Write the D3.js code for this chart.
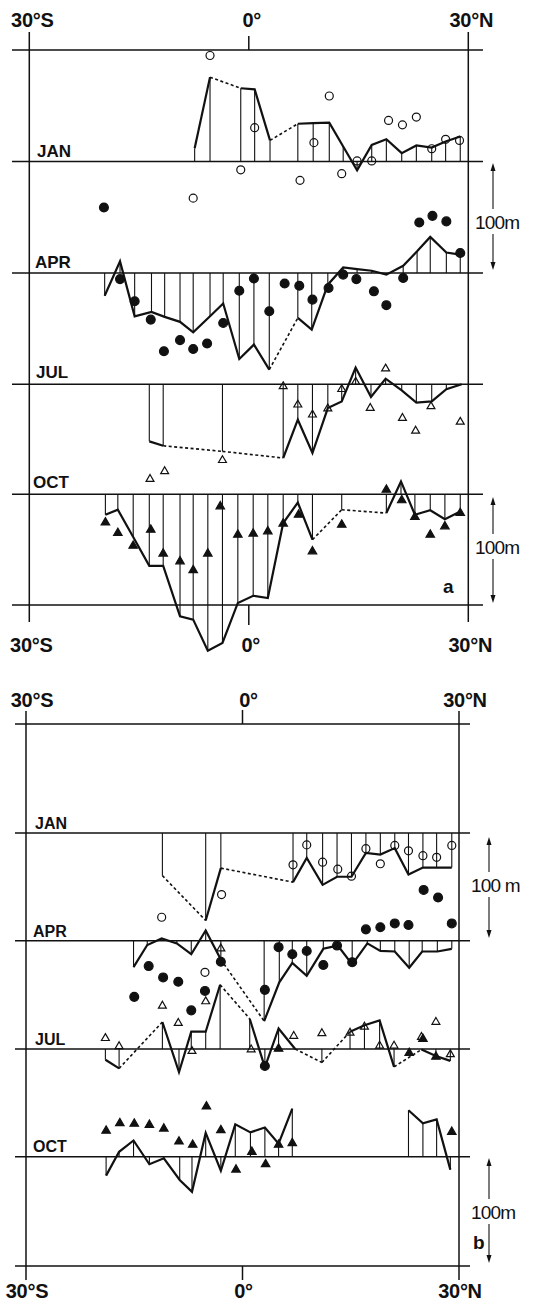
<!DOCTYPE html>
<html><head><meta charset="utf-8">
<script src="https://cdn.jsdelivr.net/npm/d3@7"></script>
<style>
body{margin:0;background:#fff}
svg text{font-family:"Liberation Sans",Arial,sans-serif;fill:#111}
</style>
</head><body>
<svg id="c" width="537" height="1303"></svg>
<script>
// ---------- labels ----------
const months = ["JAN", "APR", "JUL", "OCT"];
const latTicks = [-30, 0, 30];
const tickLabels = ["30°S", "0°", "30°N"];
const scaleLabel = ["100m", "100m"];
const scaleLabelB = ["100 m", "100m"];
const panelLetters = ["a", "b"];

// ---------- panel a : [latitude, metres (positive = up)] ----------
const aJanLine = [[-7.4,12],[-5.3,76],[-1.1,66],[0.8,65],[2.9,19],[6.7,34],[8.8,34.5],[11.0,35],[12.9,13.5],[14.8,-8],[16.8,15],[18.8,20],[20.9,7.5],[22.9,14.5],[25.0,12.5],[26.9,18],[28.9,22.5]];
const aJanObs = [[-7.6,-33],[-5.3,95.5],[-1.1,-7.5],[0.8,30.5],[7.0,-17],[8.9,17],[11.0,59],[12.7,-11],[14.8,0.5],[16.8,0.5],[19.1,37],[21.0,33],[22.9,40],[25.0,11.5],[26.9,20],[28.8,19]];
const aAprLine = [[-19.7,-20.5],[-17.6,10.5],[-15.6,-39],[-13.3,-35],[-11.5,-39.5],[-9.4,-44],[-7.6,-53.5],[-5.3,-39],[-3.5,-27.5],[-1.3,-77.5],[0.7,-64.5],[2.8,-87],[6.7,-40.5],[8.6,-51],[10.8,-10.5],[12.9,5],[14.8,3.5],[16.8,2],[18.8,-1.5],[21.1,6.5],[23.0,19.5],[24.8,32.5],[27.0,18.5],[28.9,16.5]];
const aAprObs = [[-19.8,59],[-17.6,-5.5],[-15.6,-25.5],[-13.4,-42],[-11.6,-70.5],[-9.4,-60.5],[-7.6,-68.5],[-5.7,-63.5],[-3.5,-45],[-1.3,-16],[0.7,-5],[2.8,-34.5],[4.9,-9.5],[6.9,-11.5],[8.7,-24],[10.9,-13.5],[12.9,-1.5],[14.7,-5.5],[17.1,-16.5],[18.8,-29],[21.1,-4.5],[23.3,45.5],[25.1,51.5],[27.0,46.5],[28.9,18]];
const aJulLine = [[-13.6,-51.5],[-11.7,-55.5],[-3.6,-60.5],[4.7,-66.5],[6.7,-32],[8.7,-62],[10.8,-21.5],[12.7,-15.5],[14.6,15],[16.7,-11.5],[18.7,5],[20.9,-5.5],[22.9,-16.5],[25.0,-15.5],[27.0,-4.5],[29.1,0]];
const aJulObs = [[-13.5,-85.5],[-11.5,-78.5],[-3.6,-68.5],[4.7,-2],[6.7,-18.5],[8.7,-27.5],[10.8,-22],[12.7,-4.5],[14.6,2],[16.6,-21.5],[18.7,14],[21.0,-30.5],[22.8,-42],[24.9,-20],[28.9,-34]];
const aOctLine = [[-19.6,-18.5],[-17.9,-14],[-15.8,-38.5],[-13.6,-64.5],[-11.7,-64.5],[-9.4,-110],[-7.6,-113],[-5.6,-141],[-3.6,-134],[-1.5,-98],[0.6,-91.5],[2.6,-93.5],[4.7,-26],[6.7,-7.5],[8.7,-41],[12.7,-14],[18.8,-17],[20.8,11.5],[22.7,-18.5],[24.8,-14.5],[26.8,-22.5],[28.9,-15.5]];
const aOctObs = [[-19.6,-25.5],[-17.9,-35],[-15.8,-46.5],[-13.4,-32],[-11.7,-53.5],[-9.4,-60.5],[-7.6,-68.5],[-5.6,-53.5],[-3.9,-11],[-1.5,-36.5],[0.6,-35.5],[2.6,-33.5],[4.7,-26.5],[6.8,-18.5],[8.7,-51.5],[12.7,-27.5],[18.8,4],[20.9,-5.5],[22.7,-20.5],[24.8,-36.5],[26.8,-29],[28.9,-17]];

// ---------- panel b ----------
const bJanLine = [[-11.1,-39.5],[-5.1,-81],[-3.0,-32.5],[7.0,-45.5],[8.9,-23],[11.1,-48],[13.1,-40.5],[15.1,-40.5],[17.1,-18.5],[19.1,-20],[21.1,-14],[23.0,-38.5],[25.0,-32],[26.9,-32],[29.0,-32]];
const bJanObs = [[-11.2,-78],[-5.2,-129],[-2.9,-57],[7.0,-29.5],[8.9,-11],[11.1,-27],[13.2,-33.5],[15.1,-40],[17.1,-14.5],[19.1,-28.5],[21.1,-11.5],[23.0,-16.5],[25.0,-21],[26.9,-22.5],[29.0,-11.5]];
const bAprLine = [[-15.1,-24.5],[-13.2,-4],[-11.2,2],[-9.1,-2.5],[-7.1,-12.5],[-5.1,9.5],[-3.0,-17.5],[3.0,-74.5],[5.1,-38.5],[6.9,-20.5],[8.9,-32.5],[11.2,-7.5],[13.2,-4.5],[15.2,-22],[17.3,-2.5],[19.1,-9.5],[21.1,-10],[23.1,-25],[24.9,-10],[27.0,-10],[29.0,-7.5]];
const bAprObs = [[-15.0,-52],[-13.0,-23.5],[-11.0,-34],[-8.9,-38],[-7.1,-64.5],[-5.2,-46.5],[-3.0,-19.5],[3.1,-45.5],[3.1,-116],[5.0,-6],[6.9,-12.5],[8.9,-9.5],[11.2,-22.5],[13.1,-4.5],[15.2,-20],[17.1,10.5],[19.1,12.5],[21.1,16],[23.0,14.5],[25.1,47],[27.1,40],[29.0,16]];
const bJulLine = [[-19.0,-10],[-17.1,-18],[-11.1,25],[-8.8,-21.5],[-7.1,16],[-5.1,16],[-3.1,59.5],[1.0,28],[3.1,-17],[5.0,19],[7.3,0],[11.0,-12.5],[14.9,16],[16.9,22],[19.0,26.5],[21.0,-16.5],[24.8,-0.5],[26.8,-6.5],[28.8,-11]];
const bJulObs = [[-19.0,10],[-17.1,2.5],[-11.1,40],[-8.9,24],[-7.0,-2],[-5.1,44],[-3.0,93],[1.2,-0.5],[7.1,12],[11.0,14.5],[14.9,15],[16.9,20.5],[19.0,3],[21.0,3],[24.8,11],[26.8,25],[28.8,-5]];
const bOctLine = [[-18.9,-17.5],[-17.1,4.5],[-15.1,15],[-12.9,-7],[-10.9,-1.5],[-8.7,-21.5],[-7.0,-32.5],[-5.1,22],[-3.0,-13],[-1.0,30],[1.1,22.5],[3.1,27],[5.0,12],[6.9,44.5],[23.0,43],[25.0,31],[26.9,34.5],[28.8,-12]];
const bOctObs = [[-18.9,24],[-17.0,31],[-15.0,30.5],[-12.9,29.5],[-10.9,26],[-8.8,14],[-6.9,11],[-5.0,46.5],[-3.0,24.5],[-0.9,-12],[1.3,4.5],[3.2,-7],[5.0,11],[6.9,12.5],[29.0,23],[5.0,100],[23.1,96],[25.0,109],[26.8,92.5]];

// ---------- layout (positions / styles only) ----------
const panels = [
  {lines:[aJanLine,aAprLine,aJulLine,aOctLine], obs:[aJanObs,aAprObs,aJulObs,aOctObs],
   xr:[29.3,468.3], base:[161.5,273,384.2,494.2], step:111, top:50, bottom:605,
   hx:[12,483], fy:[32,622], tTop:[36,50], tBot:[605,625],
   labTop:27, labBot:652, labDxTop:3, labDxBot:2,
   mx:[37,35,36,33], my:[157,268,378,488], mSize:17,
   arrowX:493, arrows:[[163,270,222],[497,603,547]], sLab:scaleLabel, letter:[443,593]},
  {lines:[bJanLine,bAprLine,bJulLine,bOctLine], obs:[bJanObs,bAprObs,bJulObs,bOctObs],
   xr:[26,459], base:[833,940.7,1049,1156.7], step:108, top:724, bottom:1266,
   hx:[15,470], fy:[711,1280], tTop:[710,724], tBot:[1266,1280],
   labTop:707, labBot:1298, labDxTop:6, labDxBot:1,
   mx:[35,33,35,33], my:[829,937,1045,1152], mSize:16,
   arrowX:489, arrows:[[837,938,885],[1158,1263,1212]], sLab:scaleLabelB, letter:[473,1249]}
];

const svg = d3.select("#c");
const symFor = [
  {type:d3.symbolCircle, size:50, fill:"none"},
  {type:d3.symbolCircle, size:62, fill:"#111"},
  {type:d3.symbolTriangle, size:27, fill:"none"},
  {type:d3.symbolTriangle, size:31, fill:"#111"}
];

function splitRuns(pts){
  const solid=[], dashed=[]; let run=[pts[0]];
  for(let i=1;i<pts.length;i++){
    const g = pts[i][0]-pts[i-1][0];
    if(g<=3){ run.push(pts[i]); }
    else { if(run.length>1) solid.push(run); if(g<=10) dashed.push([pts[i-1],pts[i]]); run=[pts[i]]; }
  }
  if(run.length>1) solid.push(run);
  return {solid, dashed};
}

panels.forEach((P, pi) => {
  const g = svg.append("g");
  const x = d3.scaleLinear().domain([-30,30]).range(P.xr);
  const hys = [P.top, ...P.base, P.bottom];
  g.selectAll(".h").data(hys).join("line")
    .attr("x1",P.hx[0]).attr("x2",P.hx[1]).attr("y1",d=>d).attr("y2",d=>d)
    .attr("stroke","#111").attr("stroke-width",1.6);
  g.selectAll(".v").data([-30,30]).join("line")
    .attr("x1",d=>x(d)).attr("x2",d=>x(d)).attr("y1",P.fy[0]).attr("y2",P.fy[1])
    .attr("stroke","#111").attr("stroke-width",1.5);
  [P.tTop,P.tBot].forEach(t=>g.append("line").attr("x1",x(0)).attr("x2",x(0))
    .attr("y1",t[0]).attr("y2",t[1]).attr("stroke","#111").attr("stroke-width",1.5));
  [[P.labTop,P.labDxTop],[P.labBot,P.labDxBot]].forEach(([yy,dx])=>{
    g.selectAll(null).data(latTicks).join("text")
      .attr("x",d=>x(d)+dx).attr("y",yy).attr("text-anchor","middle")
      .attr("font-size",20).attr("font-weight","bold").attr("letter-spacing",-0.3)
      .text((d,i)=>tickLabels[i]);
  });
  g.selectAll(null).data(months).join("text")
    .attr("x",(d,i)=>P.mx[i]).attr("y",(d,i)=>P.my[i])
    .attr("font-size",P.mSize).attr("font-weight","bold").text(d=>d);

  P.lines.forEach((pts, ri) => {
    const b = P.base[ri];
    const y = d3.scaleLinear().domain([0,100]).range([b, b-P.step]);
    g.selectAll(null).data(pts).join("line")
      .attr("x1",d=>x(d[0])).attr("x2",d=>x(d[0]))
      .attr("y1",b).attr("y2",d=>y(d[1]))
      .attr("stroke","#111").attr("stroke-width",1.1);
    const {solid, dashed} = splitRuns(pts);
    const ln = d3.line().x(d=>x(d[0])).y(d=>y(d[1]));
    g.selectAll(null).data(solid).join("path").attr("d",ln)
      .attr("fill","none").attr("stroke","#111").attr("stroke-width",2.2)
      .attr("stroke-linejoin","miter");
    g.selectAll(null).data(dashed).join("path").attr("d",ln)
      .attr("fill","none").attr("stroke","#111").attr("stroke-width",1.6)
      .attr("stroke-dasharray","3,2.5");
    const s = symFor[ri];
    g.selectAll(null).data(P.obs[ri]).join("path")
      .attr("d", d3.symbol().type(s.type).size(s.size))
      .attr("transform", d=>`translate(${x(d[0])},${y(d[1])})`)
      .attr("fill", s.fill).attr("stroke","#111").attr("stroke-width",1.2);
  });

  P.arrows.forEach((a, ai) => {
    const ax = P.arrowX;
    g.append("line").attr("x1",ax).attr("x2",ax).attr("y1",a[0]+5).attr("y2",a[1]-5)
      .attr("stroke","#111").attr("stroke-width",1.1);
    g.append("path").attr("d",`M${ax},${a[0]} l-2.5,8 l5,0 z`).attr("fill","#111");
    g.append("path").attr("d",`M${ax},${a[1]} l-2.5,-8 l5,0 z`).attr("fill","#111");
    g.append("rect").attr("x",ax-18).attr("y",a[2]-13).attr("width",48).attr("height",25).attr("fill","#fff");
    g.append("text").attr("x",ax-18).attr("y",a[2]+7).attr("font-size",19)
      .attr("letter-spacing",-0.8).text(P.sLab[ai]);
  });
  g.append("text").attr("x",P.letter[0]).attr("y",P.letter[1]).attr("font-size",19)
    .attr("font-weight","bold").text(panelLetters[pi]);
});
</script>
</body></html>
